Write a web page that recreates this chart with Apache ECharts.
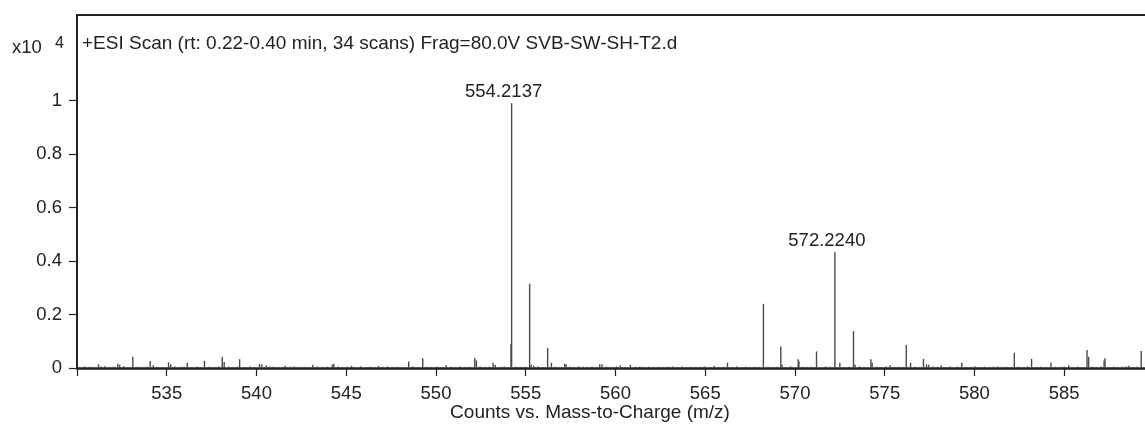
<!DOCTYPE html>
<html>
<head>
<meta charset="utf-8">
<script src="https://cdn.jsdelivr.net/npm/echarts@6/dist/echarts.min.js"></script>
<style>
  html, body { margin: 0; padding: 0; background: #fff; }
  #chart { width: 1145px; height: 425px; }
</style>
</head>
<body>
<div id="chart"></div>
<script>
// Mass spectrum, intensities in counts x10^4
const titleText = '+ESI Scan (rt: 0.22-0.40 min, 34 scans) Frag=80.0V SVB-SW-SH-T2.d';
const xAxisTitle = 'Counts vs. Mass-to-Charge (m/z)';
const xTickValues = [530, 535, 540, 545, 550, 555, 560, 565, 570, 575, 580, 585];
const xLabelValues = [535, 540, 545, 550, 555, 560, 565, 570, 575, 580, 585];
const yTickValues = [0, 0.2, 0.4, 0.6, 0.8, 1];

// labelled peaks
const labelledPeaks = [
  [554.2137, 0.99],
  [572.2240, 0.433]
];

// other resolved peaks [m/z, intensity]
const minorPeaks = [
  [530.42, 0.006], [531.20, 0.014], [531.55, 0.007], [532.27, 0.016], [532.38, 0.012],
  [533.11, 0.042], [534.08, 0.026], [534.25, 0.010], [535.10, 0.021], [535.22, 0.014],
  [536.14, 0.020], [537.10, 0.027], [538.09, 0.042], [538.20, 0.022], [539.06, 0.033],
  [540.17, 0.015], [540.30, 0.014], [540.55, 0.010], [541.60, 0.008], [543.14, 0.012],
  [544.22, 0.013], [544.31, 0.016], [545.30, 0.008], [546.80, 0.008], [548.48, 0.024],
  [549.26, 0.036], [550.57, 0.010], [552.16, 0.037], [552.25, 0.028], [553.18, 0.020],
  [553.30, 0.012], [554.18, 0.090], [555.217, 0.315], [555.30, 0.012], [555.45, 0.008],
  [556.22, 0.075], [556.43, 0.020], [557.17, 0.016], [557.25, 0.014], [559.12, 0.014],
  [559.25, 0.014], [560.27, 0.010], [560.83, 0.012], [563.20, 0.006], [566.24, 0.020],
  [568.24, 0.240], [569.21, 0.080], [569.28, 0.012], [570.18, 0.033], [570.22, 0.025],
  [571.20, 0.062], [572.50, 0.020], [573.26, 0.138], [573.35, 0.012], [574.23, 0.033],
  [574.30, 0.020], [575.30, 0.010], [576.20, 0.086], [576.44, 0.020], [577.16, 0.034],
  [577.33, 0.014], [577.45, 0.012], [578.15, 0.010], [579.29, 0.020], [582.22, 0.057],
  [583.18, 0.034], [584.26, 0.021], [585.25, 0.010], [586.27, 0.067], [586.36, 0.042],
  [587.22, 0.028], [587.27, 0.036], [588.60, 0.008], [589.29, 0.064]
];

// baseline chatter
const baselinePeaks = [
  [530.10, 0.004], [530.70, 0.005], [530.95, 0.003], [531.35, 0.006], [531.80, 0.004],
  [532.05, 0.005], [532.60, 0.007], [532.85, 0.004], [533.35, 0.005], [533.60, 0.004],
  [533.90, 0.006], [534.45, 0.005], [534.75, 0.004], [535.45, 0.006], [535.75, 0.004],
  [535.95, 0.005], [536.40, 0.004], [536.70, 0.006], [536.90, 0.004], [537.35, 0.005],
  [537.65, 0.004], [537.90, 0.006], [538.45, 0.005], [538.70, 0.004], [538.95, 0.005],
  [539.35, 0.004], [539.65, 0.006], [539.90, 0.004], [540.75, 0.006], [540.95, 0.005],
  [541.25, 0.004], [541.85, 0.005], [542.10, 0.006], [542.40, 0.004], [542.65, 0.005],
  [542.90, 0.004], [543.40, 0.006], [543.70, 0.004], [543.95, 0.005], [544.55, 0.006],
  [544.80, 0.004], [545.05, 0.005], [545.55, 0.004], [545.80, 0.006], [546.10, 0.004],
  [546.35, 0.005], [546.60, 0.004], [547.05, 0.005], [547.30, 0.006], [547.60, 0.004],
  [547.85, 0.005], [548.15, 0.004], [548.70, 0.006], [548.95, 0.004], [549.50, 0.005],
  [549.75, 0.004], [550.05, 0.006], [550.30, 0.004], [550.85, 0.005], [551.10, 0.004],
  [551.35, 0.006], [551.60, 0.004], [551.85, 0.005], [552.45, 0.006], [552.70, 0.004],
  [552.95, 0.005], [553.55, 0.004], [553.80, 0.006], [554.45, 0.005], [554.70, 0.004],
  [554.95, 0.005], [555.70, 0.006], [555.95, 0.004], [556.65, 0.005], [556.90, 0.004],
  [557.45, 0.005], [557.70, 0.004], [557.95, 0.006], [558.20, 0.005], [558.45, 0.004],
  [558.70, 0.006], [558.95, 0.004], [559.50, 0.005], [559.75, 0.004], [560.05, 0.006],
  [560.50, 0.004], [561.10, 0.005], [561.35, 0.006], [561.60, 0.004], [561.85, 0.005],
  [562.10, 0.004], [562.40, 0.005], [562.65, 0.004], [562.90, 0.005], [563.45, 0.004],
  [563.70, 0.006], [563.95, 0.004], [564.20, 0.005], [564.45, 0.004], [564.70, 0.005],
  [564.95, 0.006], [565.25, 0.004], [565.50, 0.008], [565.75, 0.004], [566.00, 0.005],
  [566.50, 0.004], [566.75, 0.006], [567.00, 0.004], [567.25, 0.005], [567.50, 0.004],
  [567.75, 0.005], [568.00, 0.004], [568.50, 0.005], [568.75, 0.004], [569.00, 0.005],
  [569.50, 0.004], [569.75, 0.006], [570.45, 0.005], [570.70, 0.004], [570.95, 0.005],
  [571.45, 0.004], [571.70, 0.006], [571.95, 0.005], [572.75, 0.004], [573.00, 0.005],
  [573.60, 0.006], [573.85, 0.004], [574.55, 0.005], [574.80, 0.004], [575.05, 0.006],
  [575.55, 0.004], [575.80, 0.005], [576.05, 0.004], [576.70, 0.005], [576.95, 0.004],
  [577.70, 0.006], [577.95, 0.005], [578.40, 0.004], [578.65, 0.006], [578.90, 0.004],
  [579.05, 0.005], [579.55, 0.004], [579.80, 0.005], [580.05, 0.006], [580.30, 0.004],
  [580.55, 0.005], [580.80, 0.004], [581.05, 0.005], [581.30, 0.006], [581.55, 0.004],
  [581.80, 0.005], [582.05, 0.004], [582.45, 0.005], [582.70, 0.004], [582.95, 0.006],
  [583.45, 0.004], [583.70, 0.005], [583.95, 0.004], [584.50, 0.005], [584.75, 0.004],
  [585.00, 0.006], [585.50, 0.004], [585.75, 0.005], [586.00, 0.004], [586.55, 0.005],
  [586.80, 0.004], [587.05, 0.006], [587.50, 0.004], [587.75, 0.005], [588.00, 0.004],
  [588.25, 0.005], [588.45, 0.006], [588.85, 0.004], [589.05, 0.005]
];

const FONT = '"Liberation Sans", Arial, sans-serif';
const FS = 18.5;
const TEXT = '#222';
const STICK = '#4a4a4a';

const stickData = baselinePeaks.concat(minorPeaks).map(p => ({ value: p }));
labelledPeaks.forEach(p => {
  stickData.push({
    value: p,
    label: {
      show: true,
      position: 'top',
      distance: 2,
      offset: [-8, 0],
      formatter: () => p[0].toFixed(4),
      fontFamily: FONT,
      fontSize: FS,
      color: TEXT
    }
  });
});
stickData.sort((a, b) => a.value[0] - b.value[0]);

const chart = echarts.init(document.getElementById('chart'), null, { renderer: 'canvas' });

const xRange = { min: 530, max: 589.5 };

chart.setOption({
  animation: false,
  backgroundColor: '#fff',
  grid: { left: 77, top: 15, right: 0, bottom: 57 },
  xAxis: [
    {
      type: 'value',
      min: xRange.min,
      max: xRange.max,
      interval: 5,
      splitLine: { show: false },
      axisLine: { show: true, lineStyle: { color: '#222', width: 2.5 } },
      axisTick: { show: true, length: 8, customValues: xTickValues, lineStyle: { color: '#222', width: 1.2 } },
      axisLabel: {
        customValues: xLabelValues,
        margin: 16,
        fontFamily: FONT, fontSize: FS, color: TEXT,
        formatter: v => String(Math.round(v))
      }
    },
    {
      // top frame edge
      type: 'value',
      position: 'top',
      min: xRange.min,
      max: xRange.max,
      splitLine: { show: false },
      axisLine: { show: true, lineStyle: { color: '#222', width: 2 } },
      axisTick: { show: false },
      axisLabel: { show: false }
    }
  ],
  yAxis: {
    type: 'value',
    min: 0,
    max: 1.32,
    interval: 0.2,
    splitLine: { show: false },
    axisLine: { show: true, lineStyle: { color: '#222', width: 2 } },
    axisTick: { show: true, length: 8, customValues: yTickValues, lineStyle: { color: '#222', width: 1.2 } },
    axisLabel: {
      customValues: yTickValues,
      margin: 15,
      fontFamily: FONT, fontSize: FS, color: TEXT,
      formatter: v => String(Math.round(v * 10) / 10)
    }
  },
  series: [{
    type: 'bar',
    xAxisIndex: 0,
    data: stickData,
    barWidth: 1.4,
    itemStyle: { color: STICK },
    silent: true
  }],
  graphic: [
    {
      type: 'text', left: 82, top: 34,
      style: { text: titleText, font: '19px ' + FONT, fill: TEXT }
    },
    {
      type: 'text', left: 12, top: 38,
      style: { text: 'x10', font: FS + 'px ' + FONT, fill: TEXT }
    },
    {
      type: 'text', left: 55, top: 36,
      style: { text: '4', font: '16px ' + FONT, fill: TEXT }
    },
    {
      type: 'text', x: 590, y: 413,
      style: { text: xAxisTitle, font: '19px ' + FONT, fill: TEXT, align: 'center', verticalAlign: 'middle' }
    }
  ]
});
</script>
</body>
</html>
